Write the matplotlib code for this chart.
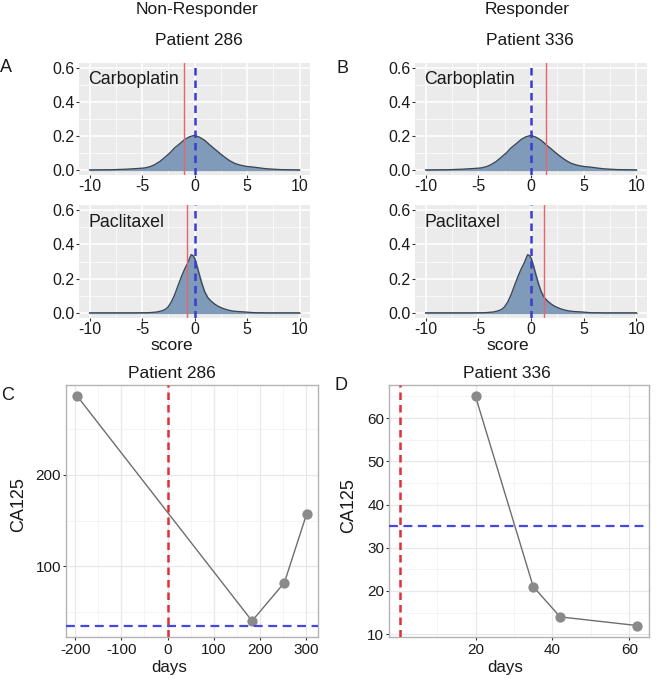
import numpy as np
import matplotlib
matplotlib.use("Agg")
import matplotlib.pyplot as plt

plt.rcParams['font.family'] = ['Liberation Sans', 'DejaVu Sans']
plt.rcParams['axes.unicode_minus'] = False

# ---------------- data ----------------
# density of drug scores
carbo_x = [-10, -8, -6.6, -5.5, -4.7, -4.2, -3.8, -3.3, -2.8, -2.3, -1.9, -1.4, -0.95, -0.5, 0,
           0.5, 0.95, 1.4, 1.9, 2.4, 2.85, 3.3, 3.8, 4.3, 4.75, 5.2, 5.7, 6.3, 7.0, 8.2, 10]
carbo_dens = [0.0, 0.001, 0.004, 0.008, 0.012, 0.02, 0.031, 0.05, 0.076, 0.103, 0.13, 0.155, 0.179,
              0.195, 0.204, 0.192, 0.175, 0.15, 0.124, 0.098, 0.076, 0.056, 0.039, 0.029, 0.023,
              0.019, 0.016, 0.011, 0.006, 0.002, 0.0]
pacli_x = [-10, -6, -4.4, -3.6, -3.16, -2.8, -2.53, -2.2, -1.9, -1.6, -1.26, -0.95, -0.63, -0.45,
           -0.32, -0.15, 0, 0.2, 0.47, 0.7, 0.95, 1.25, 1.58, 1.9, 2.2, 2.7, 3.16, 3.6, 4.1, 4.6,
           5.05, 5.7, 7, 10]
pacli_dens = [0, 0, 0.001, 0.005, 0.011, 0.02, 0.034, 0.065, 0.105, 0.155, 0.21, 0.255, 0.294,
              0.322, 0.34, 0.335, 0.32, 0.28, 0.22, 0.17, 0.125, 0.09, 0.068, 0.052, 0.04, 0.026,
              0.017, 0.011, 0.008, 0.006, 0.004, 0.001, 0, 0]

# patient scores (red lines)
p286_carbo_score = -1.0
p286_pacli_score = -0.7
p336_carbo_score = 1.45
p336_pacli_score = 1.2

# CA125 time courses
p286_days = [-195, 183, 253, 301]
p286_ca125 = [286, 40, 82, 157]
p336_days = [20, 35, 42, 62]
p336_ca125 = [65, 21, 14, 12]
ca125_threshold = 35
p286_treat_day = 0
p336_treat_day = 0.4

W, H = 660, 678
fig = plt.figure(figsize=(W / 100, H / 100), dpi=100)


def box(x0, y0, x1, y1):
    return [x0 / W, 1 - y1 / H, (x1 - x0) / W, (y1 - y0) / H]


fill_col = '#7f9bb9'
red_col = '#e8646a'
blue_col = '#3b3bd0'
txt_col = '#1a1a1a'


def density_panel(rect, xs, ds, score, label):
    ax = fig.add_axes(rect)
    ax.set_facecolor('#ebebeb')
    for s in ax.spines.values():
        s.set_visible(False)
    ax.set_xlim(-11, 11)
    ax.set_ylim(-0.03, 0.63)
    ax.set_xticks([-10, -5, 0, 5, 10])
    ax.set_yticks([0.0, 0.2, 0.4, 0.6])
    ax.set_yticklabels(['0.0', '0.2', '0.4', '0.6'])
    ax.set_xticks([-7.5, -2.5, 2.5, 7.5], minor=True)
    ax.set_yticks([0.1, 0.3, 0.5], minor=True)
    ax.grid(which='major', color='white', lw=1.1)
    ax.grid(which='minor', color='white', lw=0.5)
    ax.set_axisbelow(True)
    ax.tick_params(which='major', length=2.2, width=0.8, color='#333333', labelsize=11.5,
                   labelcolor=txt_col, pad=0.8)
    ax.tick_params(which='minor', length=0)
    ax.fill_between(xs, ds, 0, color=fill_col, zorder=2)
    ax.plot(xs, ds, color='#3d4550', lw=0.9, zorder=3)
    ax.axvline(score, color=red_col, lw=1.0, zorder=4)
    ax.axvline(0, color=blue_col, lw=1.8, ls=(0, (3, 2)), zorder=4)
    ax.text(-10.1, 0.53, label, ha='left', va='center', fontsize=12.8, color=txt_col)
    return ax


density_panel(box(79, 63, 310, 175), carbo_x, carbo_dens, p286_carbo_score, 'Carboplatin')
density_panel(box(79, 205, 310, 318), pacli_x, pacli_dens, p286_pacli_score, 'Paclitaxel')
density_panel(box(415, 63, 647, 175), carbo_x, carbo_dens, p336_carbo_score, 'Carboplatin')
density_panel(box(415, 205, 647, 318), pacli_x, pacli_dens, p336_pacli_score, 'Paclitaxel')


def ca_panel(rect, days, vals, treat_day, xlim, ylim, xticks, xminor, yticks, yminor):
    ax = fig.add_axes(rect)
    ax.set_facecolor('white')
    for s in ax.spines.values():
        s.set_color('#b3b3b3')
        s.set_linewidth(1.0)
    ax.set_xlim(*xlim)
    ax.set_ylim(*ylim)
    ax.set_xticks(xticks)
    ax.set_yticks(yticks)
    ax.set_xticks(xminor, minor=True)
    ax.set_yticks(yminor, minor=True)
    ax.grid(which='major', color='#e8e8e8', lw=0.9)
    ax.grid(which='minor', color='#f2f2f2', lw=0.6)
    ax.set_axisbelow(True)
    ax.tick_params(which='major', length=2.5, width=0.8, color='#333333', labelsize=11,
                   labelcolor=txt_col, pad=1.0)
    ax.tick_params(axis='x', which='major', pad=1.8)
    ax.tick_params(which='minor', length=0)
    ax.plot(days, vals, color='#6e6e6e', lw=1.0, zorder=3)
    ax.scatter(days, vals, s=55, color='#8a8a8a', zorder=4, linewidths=0)
    ax.axvline(treat_day, color='#e0303a', lw=1.8, ls=(0, (3, 2)), zorder=5)
    ax.axhline(ca125_threshold, color='#4646e0', lw=1.6, ls=(0, (4, 2.5)), zorder=5)
    return ax


def expand(lo, hi, f=0.05):
    d = (hi - lo) * f
    return lo - d, hi + d


c_xlim = expand(min(p286_days + [p286_treat_day]), max(p286_days))
c_ylim = expand(min(p286_ca125 + [ca125_threshold]), max(p286_ca125))
ca_panel(box(66, 385, 318, 637), p286_days, p286_ca125, p286_treat_day, c_xlim, c_ylim,
         [-200, -100, 0, 100, 200, 300], [-150, -50, 50, 150, 250],
         [100, 200], [50, 150, 250])

d_xlim = (-2.5, 65.1)
d_ylim = expand(min(p336_ca125), max(p336_ca125))
ca_panel(box(389, 385, 649, 637), p336_days, p336_ca125, p336_treat_day, d_xlim, d_ylim,
         [20, 40, 60], [0, 10, 30, 50],
         [10, 20, 30, 40, 50, 60], [15, 25, 35, 45, 55, 65])


def ftext(x, y, s, size, **kw):
    fig.text(x / W, 1 - y / H, s, fontsize=size, color=txt_col, **kw)


# headers
ftext(197, 14, 'Non-Responder', 12.5, ha='center', va='baseline')
ftext(199, 45, 'Patient 286', 12.5, ha='center', va='baseline')
ftext(527, 14, 'Responder', 12.5, ha='center', va='baseline')
ftext(530, 45, 'Patient 336', 12.5, ha='center', va='baseline')

# panel letters
ftext(0, 72, 'A', 13, ha='left', va='baseline')
ftext(337, 73, 'B', 13, ha='left', va='baseline')
ftext(1, 400, 'C', 13, ha='left', va='baseline')
ftext(335, 390, 'D', 13, ha='left', va='baseline')

# x labels of density panels
ftext(172, 350, 'score', 12.5, ha='center', va='baseline')
ftext(508, 350, 'score', 12.5, ha='center', va='baseline')

# titles of CA125 panels
ftext(172, 378, 'Patient 286', 12.5, ha='center', va='baseline')
ftext(507, 378, 'Patient 336', 12.5, ha='center', va='baseline')

# axis labels of CA125 panels
ftext(169, 672, 'days', 12.2, ha='center', va='baseline')
ftext(505, 672, 'days', 12.2, ha='center', va='baseline')
ftext(19, 505, 'CA125', 13, ha='center', va='center', rotation=90)
ftext(349, 506, 'CA125', 13, ha='center', va='center', rotation=90)

fig.savefig('out.png', dpi=100)
